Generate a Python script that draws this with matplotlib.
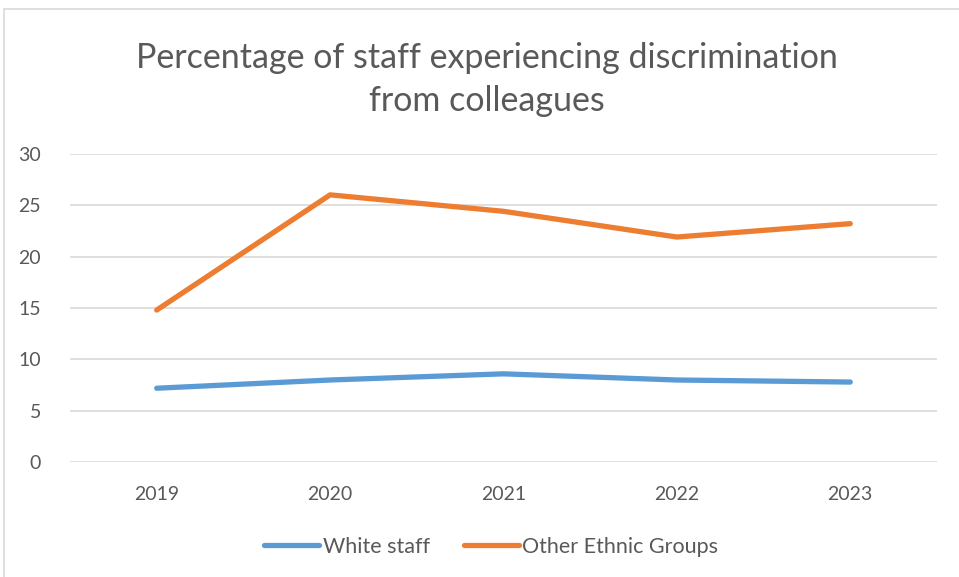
import matplotlib.pyplot as plt
from matplotlib.patches import Rectangle

# Staff survey figures, % experiencing discrimination from colleagues
years = ['2019', '2020', '2021', '2022', '2023']
white_staff = [7.2, 8.0, 8.6, 8.0, 7.8]
other_ethnic = [14.8, 26.0, 24.4, 21.9, 23.2]

text_col = '#595959'
plt.rcParams['font.family'] = ['Lato', 'DejaVu Sans']

fig = plt.figure(figsize=(9.59, 5.77), dpi=100)
ax = fig.add_axes([0.073, 0.1988, 0.904, 0.5348])

x = list(range(len(years)))
ax.plot(x, white_staff, color='#5B9BD5', lw=3.8, solid_capstyle='round',
        solid_joinstyle='round', label='White staff')
ax.plot(x, other_ethnic, color='#ED7D31', lw=3.8, solid_capstyle='round',
        solid_joinstyle='round', label='Other Ethnic Groups')

ax.set_xlim(-0.5, len(years) - 0.5)
ax.set_ylim(0, 30)
ax.set_yticks(range(0, 31, 5))
ax.set_xticks(x)
ax.set_xticklabels(years)
ax.grid(axis='y', color='#D9D9D9', lw=1.2)
ax.set_axisbelow(True)
for s in ax.spines.values():
    s.set_visible(False)
ax.tick_params(length=0, labelsize=14, labelcolor=text_col)
ax.tick_params(axis='y', pad=21)
ax.tick_params(axis='x', pad=17)

fig.text(0.508, 0.862, 'Percentage of staff experiencing discrimination\nfrom colleagues',
         ha='center', va='center', fontsize=24.5, color=text_col,
         linespacing=1.42)

leg = fig.legend(loc='center', bbox_to_anchor=(0.512, 0.052), ncol=2, frameon=False,
                 fontsize=15.5, handlelength=2.56, handletextpad=0.15, columnspacing=1.58)
for t in leg.get_texts():
    t.set_color(text_col)
for h in leg.get_lines():
    h.set_solid_capstyle('round')

# light chart border
fig.patches.append(Rectangle((4 / 959, -0.01), 1.0, 1 - 9 / 577 + 0.01,
                             transform=fig.transFigure, fill=False,
                             edgecolor='#D9D9D9', lw=1.2))

fig.savefig('out.png', dpi=100, facecolor='white')
